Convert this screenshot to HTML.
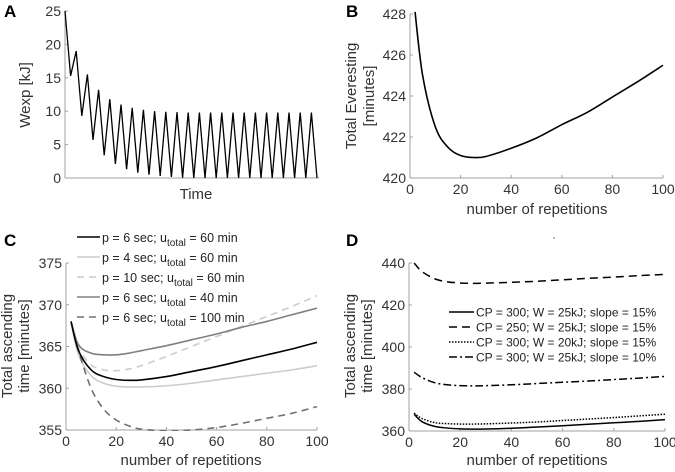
<!DOCTYPE html>
<html><head><meta charset="utf-8"><style>
body{margin:0;background:#fff}
svg{display:block;font-family:"Liberation Sans",Arial,sans-serif}
</style></head><body>
<svg id="fig" width="675" height="472" viewBox="0 0 675 472" xmlns="http://www.w3.org/2000/svg"></svg>
<script>
// ---- data ----
const aPeaks = [25,19,15.5,13.2,11.8,11.0,10.5,10.2,10.0,9.9,9.85,9.8,9.8,9.8,9.8,9.8,9.8,9.8,9.8,9.8,9.8,9.8,9.8];
const aValleys = [15.3,9.3,5.7,3.4,2.1,1.3,0.8,0.5,0.3,0.15,0.05,0,0,0,0,0,0,0,0,0,0,0,0];
const reps = [2,5,10,15,20,25,30,40,50,60,70,80,90,100];
const bVals = [428.1,425.0,422.5,421.5,421.1,421.0,421.05,421.45,421.95,422.6,423.2,423.95,424.7,425.5];
const c6s60 = [368,364.5,362.2,361.4,361.05,360.95,361.0,361.4,362.0,362.6,363.3,364.0,364.7,365.5];
const c4s60 = [368,364,361.5,360.6,360.25,360.15,360.15,360.3,360.6,361.0,361.4,361.8,362.2,362.7];
const c10s60 = [368,364.8,362.8,362.2,362.1,362.3,362.7,363.8,365.0,366.2,367.4,368.6,369.8,371.1];
const c6s40 = [368,365.2,364.2,364.0,364.0,364.2,364.5,365.1,365.8,366.5,367.3,368.0,368.8,369.6];
const c6s100 = [368,364.5,360.0,357.5,356.2,355.5,355.1,354.9,355.0,355.3,355.8,356.4,357.0,357.8];
const d300w25s15 = [368,364.5,362.2,361.4,361.0,360.9,360.95,361.3,361.9,362.5,363.2,363.9,364.6,365.4];
const d250w25s15 = [440,436,432.5,431,430.5,430.3,430.4,430.8,431.3,432,432.7,433.3,434,434.6];
const d300w20s15 = [368.5,366,364,363.5,363.3,363.3,363.4,363.8,364.3,365,365.7,366.4,367.2,368];
const d300w25s10 = [388,385.5,383,382,381.6,381.5,381.6,382,382.6,383.2,383.8,384.5,385.2,386];
const xTicks = [0,20,40,60,80,100];

const NS="http://www.w3.org/2000/svg", svg=document.getElementById('fig');
function el(tag,attrs,parent,text){const e=document.createElementNS(NS,tag);for(const k in attrs)e.setAttribute(k,attrs[k]);if(text!==undefined)e.textContent=text;(parent||svg).appendChild(e);return e;}
function lin(d0,d1,r0,r1){return v=>r0+(v-d0)/(d1-d0)*(r1-r0);}
function smooth(pts){let d='M'+pts[0][0]+','+pts[0][1];for(let i=0;i<pts.length-1;i++){const p0=pts[i-1]||pts[i],p1=pts[i],p2=pts[i+1],p3=pts[i+2]||p2;d+=' C'+(p1[0]+(p2[0]-p0[0])/6)+','+(p1[1]+(p2[1]-p0[1])/6)+' '+(p2[0]-(p3[0]-p1[0])/6)+','+(p2[1]-(p3[1]-p1[1])/6)+' '+p2[0]+','+p2[1];}return d;}

function axes(g,x0,x1,y0,y1,sx,sy,yt,xt){
  el('line',{x1:x0,y1:y0,x2:x0,y2:y1,stroke:'#a0a0a0','stroke-width':1},g);
  el('line',{x1:x0,y1:y0,x2:x1,y2:y0,stroke:'#a0a0a0','stroke-width':1},g);
  yt.forEach(v=>{const y=sy(v);el('line',{x1:x0,y1:y,x2:x0+3,y2:y,stroke:'#a0a0a0'},g);
    const t=el('text',{x:x0-4,y:y+5,'text-anchor':'end','font-size':14,fill:'#333'},g,v);
    });
  if(xt)xt.forEach(v=>{const x=sx(v);el('line',{x1:x,y1:y0,x2:x,y2:y0-3,stroke:'#a0a0a0'},g);
    const t=el('text',{x:x,y:y0+16,'text-anchor':'middle','font-size':14,fill:'#333'},g,v);
    });
}
function series(g,sx,sy,vals,attrs,name,clip){
  const p=el('path',Object.assign({d:smooth(reps.map((r,i)=>[sx(r),sy(vals[i])])),fill:'none'},attrs),g);
  if(clip)p.setAttribute('clip-path',clip);
  
}
function label(txt,x,y,name,rot,size){const t=el('text',{x:x,y:y,'text-anchor':'middle','font-size':size||15,fill:'#333'},svg,txt);
  if(rot)t.setAttribute('transform','rotate(-90 '+x+' '+y+')');return t;}
function letter(t,x,y){const e=el('text',{x:x,y:y,'font-size':17,'font-weight':'bold',fill:'#000'},svg,t);}

// ---- Panel A ----
{const g=el('g',{});
 const sy=lin(0,25,178,11);const x0=65,step=11.2;
 axes(g,65,319,178,11,null,sy,[0,5,10,15,20,25],null);
 const pts=[];aPeaks.forEach((p,i)=>{pts.push([x0+i*step,sy(p)]);pts.push([x0+i*step+step/2,sy(aValleys[i])]);});
 const pl=el('polyline',{points:pts.map(p=>p.join(',')).join(' '),fill:'none',stroke:'#000','stroke-width':1.3},g);
 
 letter('A',4,17);label('Wexp [kJ]',30,95,'y-axis-title',true);label('Time',196,199,'x-axis-title');}

// ---- Panel B ----
{const g=el('g',{});
 const sx=lin(0,100,410,663),sy=lin(420,428,178,14);
 axes(g,410,663,178,14,sx,sy,[420,422,424,426,428],xTicks);
 series(g,sx,sy,bVals,{stroke:'#000','stroke-width':1.6},'everesting-line');
 letter('B',346,17);label('Total Everesting',356,96,'y-axis-title',true);label('[minutes]',374,96,'y-axis-title-2',true);
 label('number of repetitions',537,214,'x-axis-title');}

// ---- Panel C ----
{const g=el('g',{});
 const sx=lin(0,100,66,317),sy=lin(355,375,430,263);
 const cp=el('clipPath',{id:'clipC'},svg);el('rect',{x:66,y:255,width:260,height:176},cp);
 axes(g,66,317,430,263,sx,sy,[355,360,365,370,375],xTicks);
 const S=[[c4s60,{stroke:'#cccccc','stroke-width':1.6},'series-p4-u60'],
  [c10s60,{stroke:'#cccccc','stroke-width':1.6,'stroke-dasharray':'7,5'},'series-p10-u60'],
  [c6s40,{stroke:'#808080','stroke-width':1.6},'series-p6-u40'],
  [c6s100,{stroke:'#707070','stroke-width':1.6,'stroke-dasharray':'7,5'},'series-p6-u100'],
  [c6s60,{stroke:'#000','stroke-width':1.6},'series-p6-u60']];
 S.forEach(s=>series(g,sx,sy,s[0],s[1],s[2],'url(#clipC)'));
 const leg=[[S[4],'p = 6 sec;  u','total',' = 60 min'],[S[0],'p = 4 sec;  u','total',' = 60 min'],[S[1],'p = 10 sec;  u','total',' = 60 min'],[S[2],'p = 6 sec;  u','total',' = 40 min'],[S[3],'p = 6 sec;  u','total',' = 100 min']];
 leg.forEach((l,i)=>{const y=237+i*20;const lg=el('g',{},g);
  el('line',Object.assign({x1:77,y1:y,x2:100,y2:y},l[0][1]),lg);
  const t=el('text',{x:102,y:y+5,'font-size':12.5,fill:'#222','xml:space':'preserve'},lg);
  t.appendChild(document.createTextNode(l[1]));
  el('tspan',{dy:4,'font-size':10},t,l[2]);el('tspan',{dy:-4},t,l[3]);});
 letter('C',4,246);label('Total ascending',12,346,'y-axis-title',true,15);label('time [minutes]',29,346,'y-axis-title-2',true,15);
 label('number of repetitions',191,465,'x-axis-title');}

// ---- Panel D ----
{const g=el('g',{});
 const sx=lin(0,100,409,665),sy=lin(360,440,431,263);
 axes(g,409,665,431,263,sx,sy,[360,380,400,420,440],xTicks);
 const S=[[d300w25s15,{stroke:'#000','stroke-width':1.5},'series-cp300-w25-s15','CP = 300; W = 25kJ; slope = 15%'],
  [d250w25s15,{stroke:'#000','stroke-width':1.5,'stroke-dasharray':'8,5'},'series-cp250-w25-s15','CP = 250; W = 25kJ; slope = 15%'],
  [d300w20s15,{stroke:'#000','stroke-width':1.5,'stroke-dasharray':'1.5,1.5'},'series-cp300-w20-s15','CP = 300; W = 20kJ; slope = 15%'],
  [d300w25s10,{stroke:'#000','stroke-width':1.5,'stroke-dasharray':'8,3,2,3'},'series-cp300-w25-s10','CP = 300; W = 25kJ; slope = 10%']];
 S.forEach(s=>series(g,sx,sy,s[0],s[1],s[2]));
 S.forEach((s,i)=>{const y=312+i*15;const lg=el('g',{},g);
  el('line',Object.assign({x1:449,y1:y,x2:474,y2:y},s[1]),lg);el('text',{x:476,y:y+4.5,'font-size':12,fill:'#222'},lg,s[3]);});
 el('circle',{cx:554,cy:238,r:0.7,fill:'#555'},g);
 letter('D',346,246);label('Total ascending',355,346,'y-axis-title',true,15);label('time [minutes]',372,346,'y-axis-title-2',true,15);
 label('number of repetitions',537,465,'x-axis-title');}
</script>
</body></html>
